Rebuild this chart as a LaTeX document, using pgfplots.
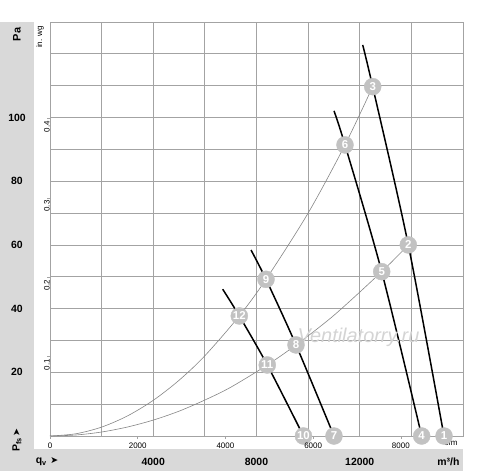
\documentclass[border=0pt]{standalone}
\usepackage{pgfplots}
\pgfplotsset{compat=1.18}
\usepackage{fontspec}
\setmainfont{Liberation Sans}
\newfontfamily\sym{DejaVu Sans}
\definecolor{band}{HTML}{D9D9D9}
\definecolor{gridc}{HTML}{A3A3A3}
\definecolor{dot}{HTML}{C2C2C2}
\definecolor{sys}{HTML}{858585}

% fan curves (m3/h, Pa)
\pgfplotstableread{
x y
6690 46.1
7334 37.7
8418 22.3
9820 0
}\fanA
\pgfplotstableread{
x y
7787 58.4
8368 49.2
9530 28.6
11002 0
}\fanB
\pgfplotstableread{
x y
11002 102.1
11428 91.4
12850 51.6
14399 0
}\fanC
\pgfplotstableread{
x y
12114 122.8
12501 109.7
13881 60.0
15264 0
}\fanD
% system curves
\pgfplotstableread{
x y
0 0
1000 0.7
2000 2.8
3000 6.3
4000 11.2
5000 17.5
6000 25.2
7334 37.7
8368 49.2
10000 70.0
11428 91.4
12501 109.7
}\sysA
\pgfplotstableread{
x y
0 0
1000 0.31
2000 1.25
3000 2.82
4000 5.0
5000 7.8
6000 11.3
7000 15.3
8418 22.3
9530 28.6
11000 37.9
12850 51.6
13881 60.0
}\sysB
\pgfplotstableread{
x y lab
15264 0 1
13881 60.0 2
12501 109.7 3
14399 0 4
12850 51.6 5
11428 91.4 6
11002 0 7
9530 28.6 8
8368 49.2 9
9820 0 10
8418 22.3 11
7334 37.7 12
}\points

\begin{document}
\begin{tikzpicture}
\path[use as bounding box] (0,0) rectangle (500bp,475bp);
\fill[band] (0,4bp) rectangle (463bp,26bp);
\fill[band] (0,4bp) rectangle (34bp,453bp);

\node[font=\bfseries\fontsize{11}{12}\selectfont, rotate=90] at (17bp,440.5bp) {Pa};
\node[font=\fontsize{8}{9}\selectfont, rotate=90] at (40bp,438bp) {in. wg};
\node[font=\bfseries\fontsize{10.5}{12}\selectfont, rotate=90] at (17bp,35bp)
  {P\textsubscript{fs}\,{\sym\fontsize{9.5}{9.5}\selectfont ➤}};
\node[font=\bfseries\fontsize{10.5}{12}\selectfont] at (47bp,13bp)
  {q\textsubscript{v}\,\,{\sym\fontsize{9.5}{9.5}\selectfont ➤}};
\node[font=\bfseries\fontsize{10.5}{12}\selectfont, anchor=east] at (463bp,13bp) {m³/h};
\node[font=\fontsize{8}{9}\selectfont] at (451bp,32bp) {cfm};

\begin{axis}[
  at={(50bp,39bp)}, anchor=south west,
  scale only axis, width=413bp, height=414bp,
  xmin=0, xmax=16000, ymin=0, ymax=130,
  xtick={4000,8000,12000}, xticklabels={4000,8000,12000},
  ytick={20,40,60,80,100}, yticklabels={20,40,60,80,100},
  minor xtick={0,2000,...,16000}, minor ytick={0,10,...,130},
  grid=minor, minor grid style={gridc, line width=0.8bp},
  axis line style={gridc, line width=0.8bp},
  major tick length=0pt, minor tick length=0pt,
  tick label style={font=\bfseries\fontsize{10.5}{12}\selectfont},
  xticklabel style={anchor=center, yshift=-26bp},
  yticklabel style={anchor=center, xshift=-33bp},
  clip=false,
]
\addplot[sys, line width=0.6bp, smooth] table {\sysA};
\addplot[sys, line width=0.6bp, smooth] table {\sysB};
\addplot[black, line width=1.5bp, smooth] table {\fanA};
\addplot[black, line width=1.5bp, smooth] table {\fanB};
\addplot[black, line width=1.5bp, smooth] table {\fanC};
\addplot[black, line width=1.5bp, smooth] table {\fanD};
\node[font=\itshape\fontsize{20}{20}\selectfont, text=black!17] at (axis cs:11950,31) {Ventilatorry.ru};
\addplot[dot, only marks, mark=*, mark size=8.5bp, mark options={draw=dot, fill=dot},
  point meta=explicit symbolic, nodes near coords,
  every node near coord/.append style={anchor=center, text=white,
    font=\bfseries\fontsize{11.5}{11.5}\selectfont}]
  table[meta=lab] {\points};
\end{axis}

\begin{axis}[
  at={(50bp,39bp)}, anchor=south west,
  scale only axis, width=413bp, height=414bp,
  xmin=0, xmax=9417.2, ymin=0, ymax=0.5219,
  axis line style={draw=none},
  xtick={0,2000,4000,6000,8000}, xticklabels={0,2000,4000,6000,8000},
  ytick={0.1,0.2,0.3,0.4}, yticklabels={0.1,0.2,0.3,0.4},
  xtick pos=left, ytick pos=left,
  tick align=outside, major tick length=3bp,
  tick style={gridc, line width=0.6bp},
  tick label style={font=\fontsize{8}{9}\selectfont},
  xticklabel style={anchor=center, yshift=-7bp},
  yticklabel style={rotate=90, anchor=center, xshift=-8bp},
]
\end{axis}
\end{tikzpicture}
\end{document}
